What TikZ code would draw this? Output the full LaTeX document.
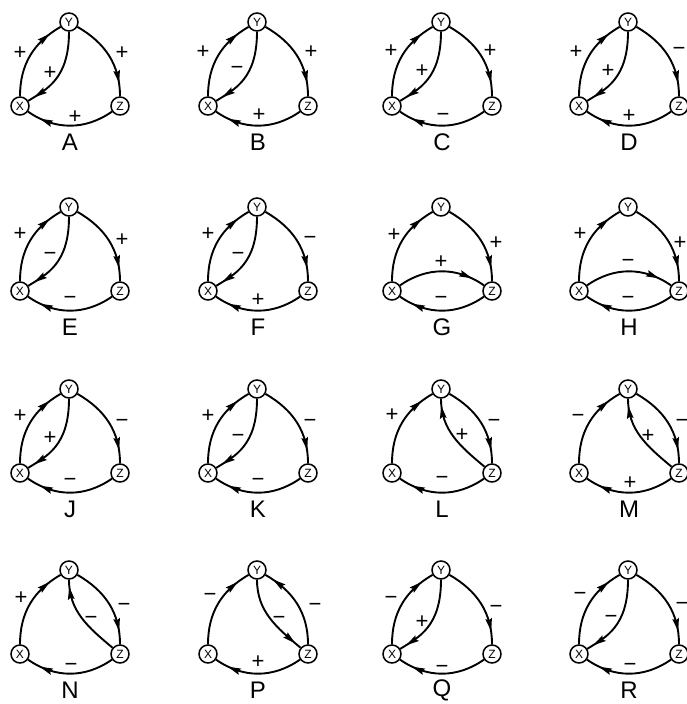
\documentclass[tikz,border=0pt]{standalone}
\usepackage{fontspec}
\setmainfont{Liberation Sans}
\usetikzlibrary{decorations.markings}
\newfontfamily\vfont{Liberation Sans}
\tikzset{
  vtx/.style={circle,draw,line width=1.5pt,minimum size=18pt,inner sep=0pt,font=\vfont\fontsize{12}{12}\selectfont},
  ttl/.style={inner sep=0pt,font=\fontsize{24}{24}\selectfont},
  sgn/.style={inner sep=0pt,font=\fontsize{22}{22}\selectfont},
  lnk/.style={line width=1.9pt,postaction={decorate},
    decoration={markings,mark=at position #1 with {\fill (4,0) -- (-9,3.4) -- (-7,0) -- (-9,-3.4) -- cycle;}}}
}
% panel nodes
\newcommand\pan[2]{%
  \node[vtx] (Y#1) at (0,0) {Y};
  \node[vtx] (X#1) at (-49,-84) {X};
  \node[vtx] (Z#1) at (51,-84) {Z};
  \node[ttl] (T#1) at (1,-120) {#2};}
% outer arcs
\newcommand\exy[4]{\draw[lnk=0.8] (X#1) to[out=90,in=-150] (Y#1); \node[sgn] (sa#1) at (#3,-#4) {#2};}
\newcommand\eyz[4]{\draw[lnk=0.8] (Y#1) to[out=-30,in=90] (Z#1); \node[sgn] (sb#1) at (#3,-#4) {#2};}
\newcommand\ezy[4]{\draw[lnk=0.85] (Z#1) to[out=90,in=-30] (Y#1); \node[sgn] (sb#1) at (#3,-#4) {#2};}
\newcommand\ezx[4]{\draw[lnk=0.8] (Z#1) to[bend left=35] (X#1); \node[sgn] (sc#1) at (#3,-#4) {#2};}
% chords
\newcommand\cyx[4]{\draw[lnk=0.87] (Y#1) to[out=-90,in=32,out looseness=1.5,in looseness=0.7] (X#1); \node[sgn] (sd#1) at (#3,-#4) {#2};}
\newcommand\cyz[4]{\draw[lnk=0.87] (Y#1) to[out=-90,in=140] (Z#1); \node[sgn] (sd#1) at (#3,-#4) {#2};}
\newcommand\czy[4]{\draw[lnk=0.87] (Z#1) to[out=140,in=-90] (Y#1); \node[sgn] (sd#1) at (#3,-#4) {#2};}
\newcommand\cxz[4]{\draw[lnk=0.8] (X#1) to[bend left=35] (Z#1); \node[sgn] (sd#1) at (#3,-#4) {#2};}
\begin{document}
\begin{tikzpicture}[x=1pt,y=1pt]
\useasboundingbox (0,0) rectangle (687,-704);
% Row 1
\begin{scope}[shift={(69,-22)}]
 \pan{A}{A}\exy{A}{+}{-49}{31}\eyz{A}{+}{53}{31}\ezx{A}{+}{6}{95}\cyx{A}{+}{-19}{51}
\end{scope}
\begin{scope}[shift={(257,-22)}]
 \pan{B}{B}\exy{B}{+}{-54}{30}\eyz{B}{+}{54}{30}\ezx{B}{+}{2}{93}\cyx{B}{−}{-20}{48}
\end{scope}
\begin{scope}[shift={(441,-22)}]
 \pan{C}{C}\exy{C}{+}{-50}{29}\eyz{C}{+}{49}{29}\ezx{C}{−}{2}{95}\cyx{C}{+}{-19}{49}
\end{scope}
\begin{scope}[shift={(628,-22)}]
 \pan{D}{D}\exy{D}{+}{-52}{30}\eyz{D}{−}{51}{29}\ezx{D}{+}{1}{94}\cyx{D}{+}{-20}{49}
\end{scope}
% Row 2
\begin{scope}[shift={(69,-207)}]
 \pan{E}{E}\exy{E}{+}{-49}{27}\eyz{E}{+}{53}{33}\ezx{E}{−}{1}{93}\cyx{E}{−}{-19}{49}
\end{scope}
\begin{scope}[shift={(257,-207)}]
 \pan{F}{F}\exy{F}{+}{-49}{27}\eyz{F}{−}{53}{33}\ezx{F}{+}{1}{93}\cyx{F}{−}{-19}{49}
\end{scope}
\begin{scope}[shift={(441,-207)}]
 \pan{G}{G}\exy{G}{+}{-47}{28}\eyz{G}{+}{55}{36}\ezx{G}{−}{0}{93}\cxz{G}{+}{0}{55}
\end{scope}
\begin{scope}[shift={(628,-207)}]
 \pan{H}{H}\exy{H}{+}{-48}{27}\eyz{H}{+}{52}{36}\ezx{H}{−}{0}{93}\cxz{H}{−}{0}{56}
\end{scope}
% Row 3
\begin{scope}[shift={(69,-389)}]
 \pan{J}{J}\exy{J}{+}{-49}{27}\eyz{J}{−}{53}{34}\ezx{J}{−}{1}{93}\cyx{J}{+}{-19}{49}
\end{scope}
\begin{scope}[shift={(257,-389)}]
 \pan{K}{K}\exy{K}{+}{-49}{27}\eyz{K}{−}{53}{34}\ezx{K}{−}{1}{93}\cyx{K}{−}{-19}{49}
\end{scope}
\begin{scope}[shift={(441,-389)}]
 \pan{L}{L}\exy{L}{+}{-49}{26}\eyz{L}{−}{53}{34}\ezx{L}{−}{1}{91}\czy{L}{+}{21}{46}
\end{scope}
\begin{scope}[shift={(628,-389)}]
 \pan{M}{M}\exy{M}{−}{-50}{29}\eyz{M}{−}{54}{34}\ezx{M}{+}{2}{94}\czy{M}{+}{20}{47}
\end{scope}
% Row 4
\begin{scope}[shift={(69,-570)}]
 \pan{N}{N}\exy{N}{+}{-48}{28}\eyz{N}{−}{55}{37}\ezx{N}{−}{2}{97}\czy{N}{−}{22}{50}
\end{scope}
\begin{scope}[shift={(257,-570)}]
 \pan{P}{P}\exy{P}{−}{-47}{27}\ezy{P}{−}{58}{37}\ezx{P}{+}{1}{92}\cyz{P}{−}{22}{50}
\end{scope}
\begin{scope}[shift={(441,-570)}]
 \pan{Q}{Q}\exy{Q}{−}{-50}{30}\eyz{Q}{−}{55}{39}\ezx{Q}{−}{1}{99}\cyx{Q}{+}{-19}{52}
\end{scope}
\begin{scope}[shift={(628,-570)}]
 \pan{R}{R}\exy{R}{−}{-48}{26}\eyz{R}{−}{54}{36}\ezx{R}{−}{2}{97}\cyx{R}{−}{-17}{49}
\end{scope}
\end{tikzpicture}
\end{document}
